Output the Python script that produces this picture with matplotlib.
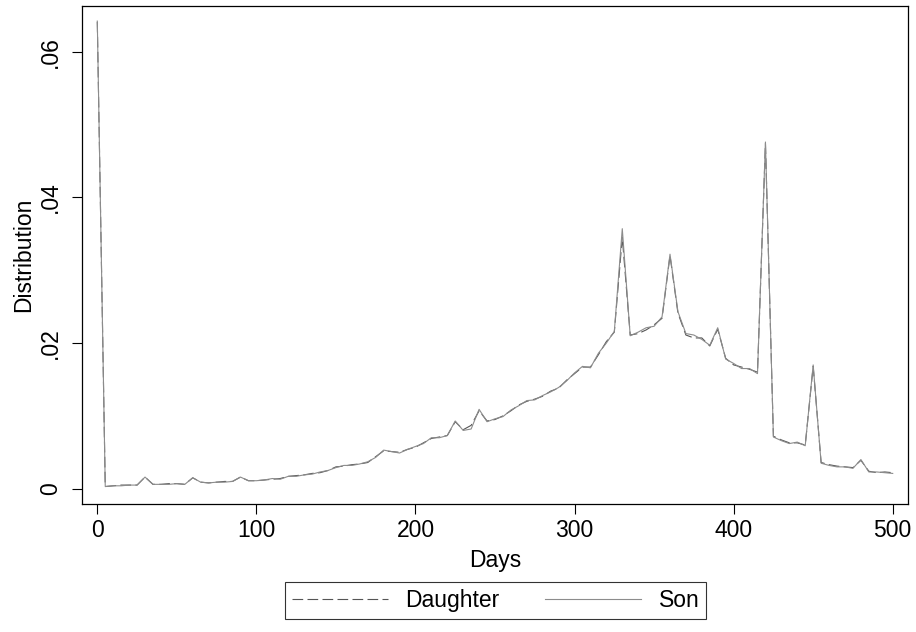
import numpy as np
import matplotlib
matplotlib.use("Agg")
import matplotlib.pyplot as plt

plt.rcParams["font.family"] = ["Liberation Sans", "DejaVu Sans"]
plt.rcParams["lines.scale_dashes"] = False

# days since event, 5-day bins
days = list(range(0, 501, 5))

son = [
    0.0642, 0.0003, 0.0004, 0.0004, 0.0005, 0.0005, 0.0016, 0.0006, 0.0006, 0.0006,
    0.0007, 0.0006, 0.0015, 0.0009, 0.0008, 0.0009, 0.0009, 0.0010, 0.0016, 0.0011,
    0.0011, 0.0012, 0.0014, 0.0013, 0.0017, 0.0017, 0.0019, 0.0020, 0.0023, 0.0025,
    0.0029, 0.0032, 0.0032, 0.0034, 0.0037, 0.0043, 0.0053, 0.0051, 0.0049, 0.0054,
    0.0058, 0.0062, 0.0070, 0.0070, 0.0073, 0.0093, 0.0080, 0.0082, 0.0109, 0.0092,
    0.0096, 0.0099, 0.0108, 0.0114, 0.0121, 0.0122, 0.0128, 0.0133, 0.0139, 0.0148,
    0.0159, 0.0168, 0.0166, 0.0186, 0.0200, 0.0216, 0.0357, 0.0210, 0.0215, 0.0221,
    0.0223, 0.0236, 0.0322, 0.0243, 0.0213, 0.0211, 0.0205, 0.0197, 0.0221, 0.0178,
    0.0172, 0.0165, 0.0165, 0.0158, 0.0476, 0.0071, 0.0066, 0.0062, 0.0064, 0.0059,
    0.0170, 0.0035, 0.0032, 0.0030, 0.0030, 0.0028, 0.0040, 0.0023, 0.0023, 0.0022,
    0.0021,
]

daughter = [
    0.0641, 0.0003, 0.0004, 0.0005, 0.0005, 0.0005, 0.0016, 0.0006, 0.0006, 0.0007,
    0.0007, 0.0006, 0.0015, 0.0009, 0.0008, 0.0009, 0.0010, 0.0010, 0.0016, 0.0011,
    0.0011, 0.0012, 0.0013, 0.0014, 0.0017, 0.0018, 0.0019, 0.0021, 0.0022, 0.0025,
    0.0030, 0.0031, 0.0033, 0.0034, 0.0036, 0.0044, 0.0052, 0.0051, 0.0050, 0.0054,
    0.0057, 0.0063, 0.0069, 0.0071, 0.0073, 0.0092, 0.0081, 0.0087, 0.0107, 0.0093,
    0.0095, 0.0100, 0.0107, 0.0115, 0.0120, 0.0123, 0.0127, 0.0134, 0.0138, 0.0149,
    0.0158, 0.0167, 0.0167, 0.0184, 0.0202, 0.0215, 0.0345, 0.0211, 0.0213, 0.0218,
    0.0225, 0.0234, 0.0320, 0.0241, 0.0211, 0.0207, 0.0207, 0.0196, 0.0219, 0.0179,
    0.0170, 0.0167, 0.0164, 0.0160, 0.0474, 0.0072, 0.0067, 0.0063, 0.0063, 0.0060,
    0.0168, 0.0036, 0.0033, 0.0031, 0.0030, 0.0029, 0.0039, 0.0024, 0.0022, 0.0023,
    0.0022,
]

yticks = [0, 0.02, 0.04, 0.06]
ytick_labels = ["0", ".02", ".04", ".06"]
xticks = [0, 100, 200, 300, 400, 500]

FS = 16.5

fig = plt.figure(figsize=(9.16, 6.32), dpi=100)
ax = fig.add_axes([0.0892, 0.2025, 0.9024, 0.788])

ax.plot(days, daughter, color="#555555", lw=0.8, dashes=(7.7, 3.1), label="Daughter")
ax.plot(days, son, color="#8c8c8c", lw=0.8, label="Son")

ax.set_xlim(-9.8, 509.8)
ax.set_ylim(-0.0021, 0.06627)
ax.set_xticks(xticks)
ax.set_yticks(yticks)
ax.set_yticklabels(ytick_labels, rotation=90, va="center")
ax.tick_params(axis="both", direction="out", length=7, width=0.8, labelsize=FS, colors="black")
ax.tick_params(axis="x", pad=4)
ax.tick_params(axis="y", pad=7)
for s in ax.spines.values():
    s.set_color("black")
    s.set_linewidth(0.9)

ax.set_xlabel("Days", fontsize=FS, labelpad=5)
ax.set_ylabel("Distribution", fontsize=FS, labelpad=3)

fig.legend(loc="center", bbox_to_anchor=(495.5 / 916, 1 - 600.5 / 632), ncol=2,
           fontsize=FS, frameon=True, fancybox=False, edgecolor="black",
           handlelength=4.2, handletextpad=0.75, columnspacing=2.0,
           borderpad=0.3, borderaxespad=0)
fig.legends[0].get_frame().set_linewidth(0.8)

fig.savefig("out.png", dpi=100, facecolor="white")
